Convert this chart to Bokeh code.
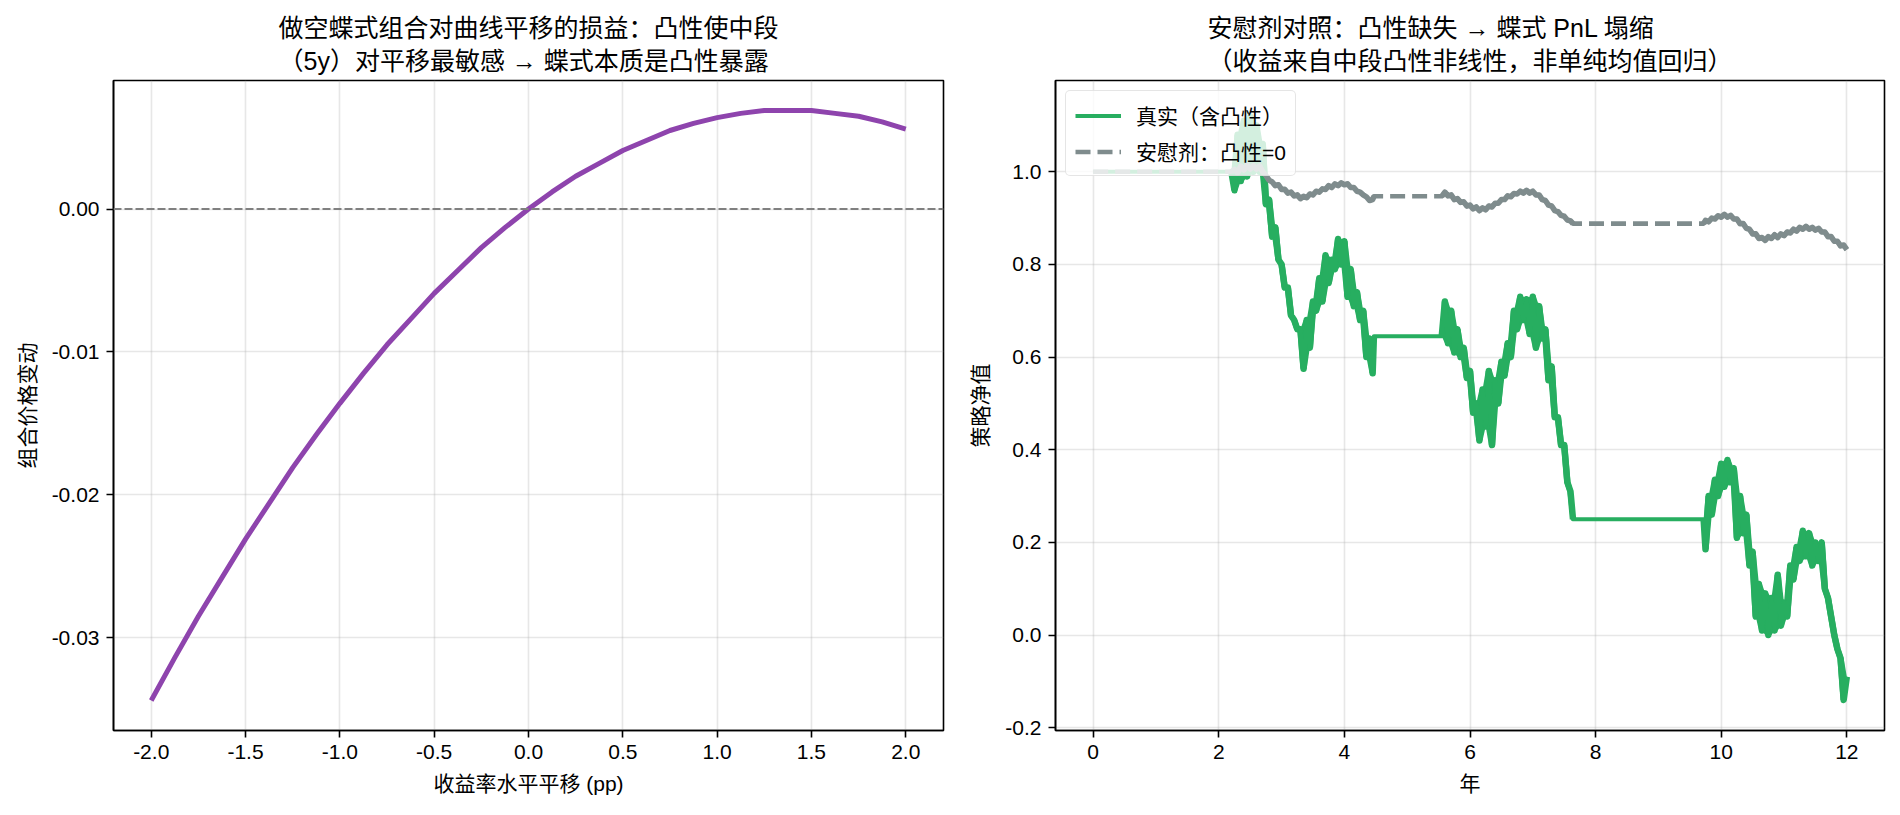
from bokeh.plotting import figure
from bokeh.models import Span, FixedTicker, PrintfTickFormatter, Legend, LegendItem
from bokeh.layouts import row
from bokeh.embed import file_html
from bokeh.resources import INLINE

FONT = "Liberation Sans, Noto Sans CJK SC"

# left panel: price change of the short butterfly vs parallel shift
shift_pp = [-2.0, -1.875, -1.75, -1.625, -1.5, -1.375, -1.25, -1.125, -1.0, -0.875, -0.75, -0.625,
            -0.5, -0.375, -0.25, -0.125, 0.0, 0.125, 0.25, 0.375, 0.5, 0.625, 0.75, 0.875,
            1.0, 1.125, 1.25, 1.375, 1.5, 1.625, 1.75, 1.875, 2.0]
price_change = [-0.0344, -0.0314, -0.0285, -0.0258, -0.0231, -0.0206, -0.0181, -0.0158, -0.0136,
                -0.0115, -0.0095, -0.0077, -0.0059, -0.0043, -0.0027, -0.0013, 0.0, 0.0012, 0.0023,
                0.0032, 0.0041, 0.0048, 0.0055, 0.0060, 0.0064, 0.0067, 0.0069, 0.0069, 0.0069,
                0.0067, 0.0065, 0.0061, 0.0056]

# right panel: strategy NAV, real vs placebo (convexity = 0)
years = [0.0,
         2.20, 2.25, 2.30, 2.35, 2.40, 2.45, 2.50, 2.55, 2.60, 2.65, 2.70, 2.75, 2.80, 2.85, 2.90, 2.95,
         3.00, 3.05, 3.10, 3.15, 3.20, 3.25, 3.30, 3.35, 3.40, 3.45, 3.50, 3.55, 3.60, 3.65, 3.70, 3.75,
         3.80, 3.85, 3.90, 3.95, 4.00, 4.05, 4.10, 4.15, 4.20, 4.25, 4.30, 4.35, 4.40, 4.45, 4.47,
         5.55,
         5.60, 5.65, 5.70, 5.75, 5.80, 5.85, 5.90, 5.95, 6.00, 6.05, 6.10, 6.15, 6.20, 6.25, 6.30, 6.35,
         6.40, 6.45, 6.50, 6.55, 6.60, 6.65, 6.70, 6.75, 6.80, 6.85, 6.90, 6.95, 7.00, 7.05, 7.10, 7.15,
         7.20, 7.25, 7.30, 7.35, 7.40, 7.45, 7.50, 7.55, 7.60, 7.64,
         9.72,
         9.75, 9.80, 9.85, 9.90, 9.95, 10.00, 10.05, 10.10, 10.15, 10.20, 10.25, 10.30, 10.35, 10.40,
         10.45, 10.50, 10.55, 10.60, 10.65, 10.70, 10.75, 10.80, 10.85, 10.90, 10.95, 11.00, 11.05,
         11.10, 11.15, 11.20, 11.25, 11.30, 11.35, 11.40, 11.45, 11.50, 11.55, 11.60, 11.65, 11.70,
         11.75, 11.80, 11.85, 11.90, 11.95, 12.00]

real_nav = [1.0,
            1.00, 0.96, 1.08, 0.98, 1.11, 0.99, 1.12, 1.00, 1.10, 1.00, 1.06, 0.93, 0.94, 0.86, 0.88, 0.81,
            0.80, 0.75, 0.75, 0.69, 0.68, 0.66, 0.66, 0.575, 0.68, 0.62, 0.72, 0.70, 0.77, 0.72, 0.82, 0.76,
            0.81, 0.79, 0.855, 0.80, 0.85, 0.73, 0.79, 0.71, 0.74, 0.68, 0.70, 0.60, 0.64, 0.565, 0.645,
            0.645,
            0.72, 0.63, 0.70, 0.61, 0.66, 0.60, 0.62, 0.555, 0.57, 0.48, 0.50, 0.42, 0.53, 0.45, 0.57, 0.41,
            0.55, 0.50, 0.59, 0.56, 0.63, 0.60, 0.70, 0.66, 0.73, 0.68, 0.725, 0.65, 0.73, 0.62, 0.71, 0.64,
            0.66, 0.55, 0.58, 0.47, 0.47, 0.41, 0.41, 0.33, 0.31, 0.25,
            0.25,
            0.185, 0.30, 0.26, 0.335, 0.30, 0.37, 0.32, 0.378, 0.33, 0.36, 0.21, 0.30, 0.22, 0.26,
            0.15, 0.18, 0.04, 0.11, 0.01, 0.09, 0.00, 0.08, 0.01, 0.13, 0.02, 0.07, 0.04,
            0.15, 0.12, 0.19, 0.16, 0.225, 0.17, 0.22, 0.15, 0.20, 0.16, 0.20, 0.10, 0.08,
            0.04, 0.00, -0.03, -0.05, -0.14, -0.09]

placebo_nav = [1.0,
               1.000, 1.005, 0.998, 1.012, 1.004, 1.014, 1.006, 1.013, 1.006, 1.012, 1.000, 0.992, 0.982,
               0.978, 0.970, 0.972, 0.962, 0.962, 0.954, 0.956, 0.948, 0.950, 0.942, 0.947, 0.944, 0.952,
               0.950, 0.958, 0.956, 0.963, 0.962, 0.970, 0.966, 0.974, 0.970, 0.976, 0.972, 0.974, 0.966,
               0.966, 0.958, 0.956, 0.950, 0.946, 0.938, 0.940, 0.947,
               0.947,
               0.956, 0.948, 0.950, 0.940, 0.942, 0.934, 0.935, 0.926, 0.928, 0.920, 0.924, 0.916, 0.922,
               0.918, 0.926, 0.924, 0.932, 0.932, 0.940, 0.940, 0.948, 0.946, 0.953, 0.952, 0.958, 0.954,
               0.960, 0.954, 0.958, 0.950, 0.950, 0.940, 0.938, 0.928, 0.926, 0.916, 0.914, 0.906, 0.904,
               0.896, 0.894, 0.888,
               0.888,
               0.895, 0.892, 0.900, 0.898, 0.905, 0.902, 0.908, 0.902, 0.906, 0.898, 0.898, 0.888, 0.888,
               0.878, 0.876, 0.866, 0.866, 0.856, 0.858, 0.852, 0.860, 0.856, 0.864, 0.858, 0.866, 0.862,
               0.870, 0.868, 0.876, 0.872, 0.880, 0.876, 0.882, 0.876, 0.880, 0.874, 0.878, 0.870, 0.870,
               0.860, 0.860, 0.850, 0.850, 0.840, 0.842, 0.832]

left_xticks = [-2.0, -1.5, -1.0, -0.5, 0.0, 0.5, 1.0, 1.5, 2.0]
left_yticks = [-0.03, -0.02, -0.01, 0.0]
right_xticks = [0, 2, 4, 6, 8, 10, 12]
right_yticks = [-0.2, 0.0, 0.2, 0.4, 0.6, 0.8, 1.0]

left_title = "做空蝶式组合对曲线平移的损益：凸性使中段\n（5y）对平移最敏感 → 蝶式本质是凸性暴露"
right_title = "安慰剂对照：凸性缺失 → 蝶式 PnL 塌缩\n（收益来自中段凸性非线性，非单纯均值回归）"

GREEN = "#27ae60"
GREY = "#7f8c8d"


def style(p):
    p.outline_line_color = "black"
    p.outline_line_width = 1.6
    p.outline_line_alpha = 1.0
    p.title.align = "center"
    p.title.text_font = FONT
    p.title.text_font_size = "25px"
    p.title.text_font_style = "normal"
    p.title.text_color = "black"
    p.title.text_line_height = 1.2
    for ax in p.axis:
        ax.axis_line_color = "black"
        ax.axis_line_width = 1.6
        ax.major_tick_line_color = "black"
        ax.major_tick_line_width = 1.6
        ax.major_tick_out = 7
        ax.major_tick_in = 0
        ax.minor_tick_out = 0
        ax.minor_tick_in = 0
        ax.major_label_text_font = FONT
        ax.major_label_text_font_size = "21px"
        ax.major_label_text_color = "black"
        ax.major_label_standoff = 7
        ax.axis_label_text_font = FONT
        ax.axis_label_text_font_size = "21px"
        ax.axis_label_text_font_style = "normal"
        ax.axis_label_text_color = "black"
        ax.axis_label_standoff = 10
    p.grid.grid_line_color = "#b0b0b0"
    p.grid.grid_line_alpha = 0.3
    p.grid.grid_line_width = 1.6


def dense_runs(xs, ys):
    # split the path where the sampling is dense (noisy stretches) vs long flat gaps
    runs = []
    cx, cy = [xs[0]], [ys[0]]
    for i in range(1, len(xs)):
        if xs[i] - xs[i - 1] > 0.1:
            if len(cx) > 1:
                runs.append((cx, cy))
            cx, cy = [xs[i]], [ys[i]]
        else:
            cx.append(xs[i])
            cy.append(ys[i])
    if len(cx) > 1:
        runs.append((cx, cy))
    return runs


p1 = figure(frame_width=830, frame_height=650, min_border_left=113, min_border_right=15,
            min_border_top=80, min_border_bottom=85,
            x_range=(-2.2, 2.2), y_range=(-0.0365, 0.0090),
            title=left_title, x_axis_label="收益率水平平移 (pp)", y_axis_label="组合价格变动",
            output_backend="svg", toolbar_location=None)
p1.add_layout(Span(location=0, dimension="width", line_color="gray", line_width=2, line_dash="8 3"))
p1.line(shift_pp, price_change, line_color="#8e44ad", line_width=5, line_join="round")
p1.xaxis.ticker = FixedTicker(ticks=left_xticks)
p1.xaxis.formatter = PrintfTickFormatter(format="%.1f")
p1.yaxis.ticker = FixedTicker(ticks=left_yticks)
p1.yaxis.formatter = PrintfTickFormatter(format="%.2f")
style(p1)

p2 = figure(frame_width=829, frame_height=650, min_border_left=97, min_border_right=16,
            min_border_top=80, min_border_bottom=85,
            x_range=(-0.6, 12.6), y_range=(-0.206, 1.197),
            title=right_title, x_axis_label="年", y_axis_label="策略净值",
            output_backend="svg", toolbar_location=None)

# noisy stretches of the real NAV: fill between local min and max of neighbouring samples
real_runs = dense_runs(years, real_nav)
for rx, ry in real_runs:
    lo = [min(ry[max(0, i - 1):i + 2]) for i in range(len(ry))]
    hi = [max(ry[max(0, i - 1):i + 2]) for i in range(len(ry))]
    p2.varea(x=rx, y1=lo, y2=hi, fill_color=GREEN)
p2.multi_line([r[0] for r in real_runs], [r[1] for r in real_runs], line_color=GREEN,
              line_width=6.5, line_join="round")
g = p2.line(years, real_nav, line_color=GREEN, line_width=4.2, line_join="round")

d = p2.line(years, placebo_nav, line_color=GREY, line_width=4.6, line_dash="15 7", line_join="round")
runs = dense_runs(years, placebo_nav)
p2.multi_line([r[0] for r in runs], [r[1] for r in runs], line_color=GREY, line_width=5.6,
              line_join="round")

p2.xaxis.ticker = FixedTicker(ticks=right_xticks)
p2.yaxis.ticker = FixedTicker(ticks=right_yticks)
p2.yaxis.formatter = PrintfTickFormatter(format="%.1f")
style(p2)

legend = Legend(items=[LegendItem(label="真实（含凸性）", renderers=[g]),
                       LegendItem(label="安慰剂：凸性=0", renderers=[d])],
                location="top_left")
legend.margin = 10
legend.padding = 9
legend.spacing = 6
legend.glyph_width = 46
legend.glyph_height = 25
legend.label_height = 25
legend.label_standoff = 15
legend.label_text_font = FONT
legend.label_text_font_size = "21px"
legend.label_text_color = "black"
legend.border_line_color = "#cccccc"
legend.border_line_width = 1.6
legend.background_fill_alpha = 0.8
if "border_radius" in Legend.properties():
    legend.border_radius = 5
p2.add_layout(legend)

layout = row(p1, p2)
open("out.html", "w").write(file_html(layout, INLINE))
